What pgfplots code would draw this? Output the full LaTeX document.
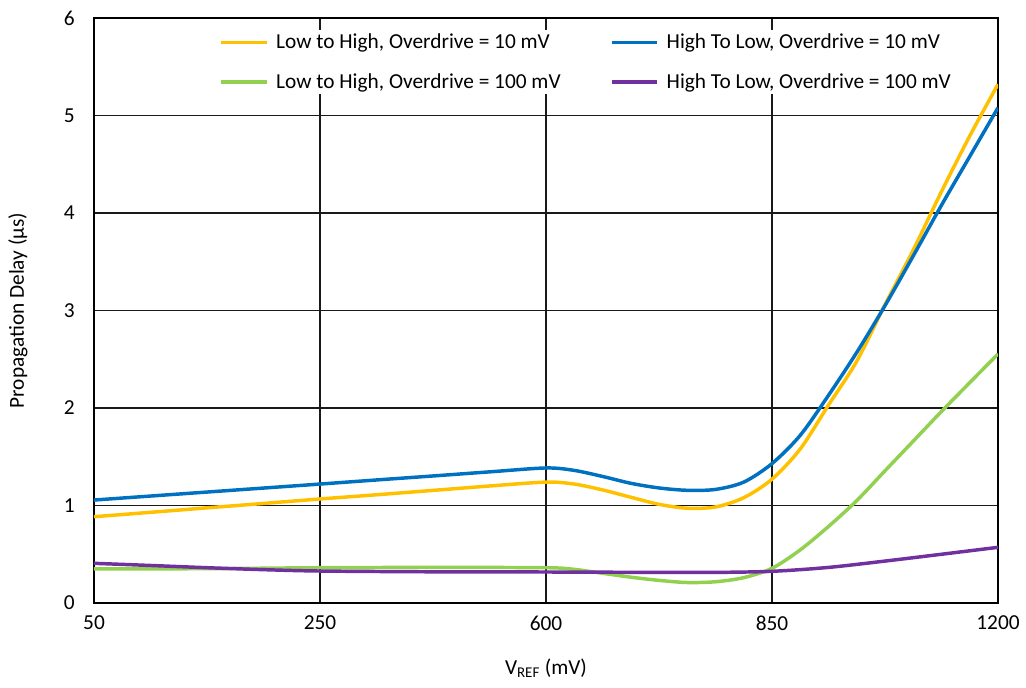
\documentclass[border=0pt]{standalone}
\usepackage{fontspec}
\setmainfont{Carlito}
\usepackage{pgfplots}
\pgfplotsset{compat=1.18}
\definecolor{cOr}{HTML}{FFC000}
\definecolor{cBl}{HTML}{0070C0}
\definecolor{cGr}{HTML}{92D050}
\definecolor{cPu}{HTML}{7030A0}
\begin{document}
\begin{tikzpicture}
\begin{axis}[
  at={(0,0)}, anchor=south west,
  scale only axis,
  width=678pt, height=438.75pt,
  xmin=0, xmax=4, ymin=0, ymax=6,
  xtick={0,1,2,3,4},
  xticklabels={50,250,600,850,1200},
  ytick={0,1,2,3,4,5,6},
  major tick length=0pt,
  grid=major,
  major grid style={black!90, line width=0.8pt},
  axis line style={black, line width=1.4pt},
  /pgf/number format/assume math mode=true,
  tick label style={font=\fontsize{16}{19}\selectfont},
  xticklabel style={yshift=-6pt},
  yticklabel style={xshift=-11pt},
  label style={font=\fontsize{16}{19}\selectfont},
  xlabel={V\textsubscript{REF} (mV)},
  ylabel={Propagation Delay (µs)},
  xlabel style={at={(axis description cs:0.5,-0.1111)}, anchor=center},
  ylabel style={at={(axis description cs:-0.0841,0.5)}, anchor=center},
  legend columns=2,
  legend style={draw=none, fill=white, inner sep=1pt,
    at={(axis description cs:0.137,0.980)}, anchor=north west,
    font=\fontsize{16}{19}\selectfont,
    /tikz/every even column/.append style={column sep=35pt},
    row sep=13pt},
  legend cell align=left,
  legend image code/.code={\draw[#1] (0pt,0pt) -- (34pt,0pt); \path (38pt,0pt);},
  every axis plot/.append style={line width=2.6pt, smooth},
]
\addplot[cOr] coordinates {(0,0.885) (0.25,0.93) (0.5,0.976) (0.75,1.021) (1,1.067) (1.25,1.11) (1.5,1.155) (1.75,1.2) (2,1.24) (2.125,1.22) (2.25,1.16) (2.375,1.085) (2.5,1.012) (2.625,0.972) (2.75,0.985) (2.875,1.08) (3,1.27) (3.125,1.58) (3.25,2.03) (3.375,2.48) (3.5,3.06) (3.625,3.62) (3.75,4.22) (3.875,4.79) (4,5.32)};
\addlegendentry{Low to High, Overdrive = 10 mV}
\addplot[cBl] coordinates {(0,1.056) (0.25,1.097) (0.5,1.138) (0.75,1.179) (1,1.22) (1.25,1.262) (1.5,1.303) (1.75,1.345) (2,1.385) (2.125,1.36) (2.25,1.298) (2.375,1.228) (2.5,1.18) (2.625,1.156) (2.75,1.165) (2.875,1.24) (3,1.43) (3.125,1.72) (3.25,2.13) (3.375,2.57) (3.5,3.05) (3.625,3.56) (3.75,4.08) (3.875,4.58) (4,5.08)};
\addlegendentry{High To Low, Overdrive = 10 mV}
\addplot[cGr] coordinates {(0,0.349) (0.5,0.352) (1,0.362) (1.5,0.365) (2,0.362) (2.125,0.345) (2.25,0.305) (2.375,0.265) (2.5,0.232) (2.625,0.21) (2.75,0.218) (2.875,0.26) (3,0.356) (3.125,0.545) (3.25,0.785) (3.375,1.05) (3.5,1.356) (3.625,1.66) (3.75,1.965) (3.875,2.26) (4,2.554)};
\addlegendentry{Low to High, Overdrive = 100 mV}
\addplot[cPu] coordinates {(0,0.407) (0.25,0.385) (0.5,0.362) (0.75,0.342) (1,0.328) (1.5,0.32) (2,0.318) (2.5,0.314) (2.75,0.314) (3,0.325) (3.25,0.365) (3.5,0.43) (3.75,0.5) (4,0.571)};
\addlegendentry{High To Low, Overdrive = 100 mV}
\end{axis}
\pgfresetboundingbox
\path[use as bounding box] (-70.5pt,-63pt) rectangle (699pt,452.25pt);
\end{tikzpicture}
\end{document}
